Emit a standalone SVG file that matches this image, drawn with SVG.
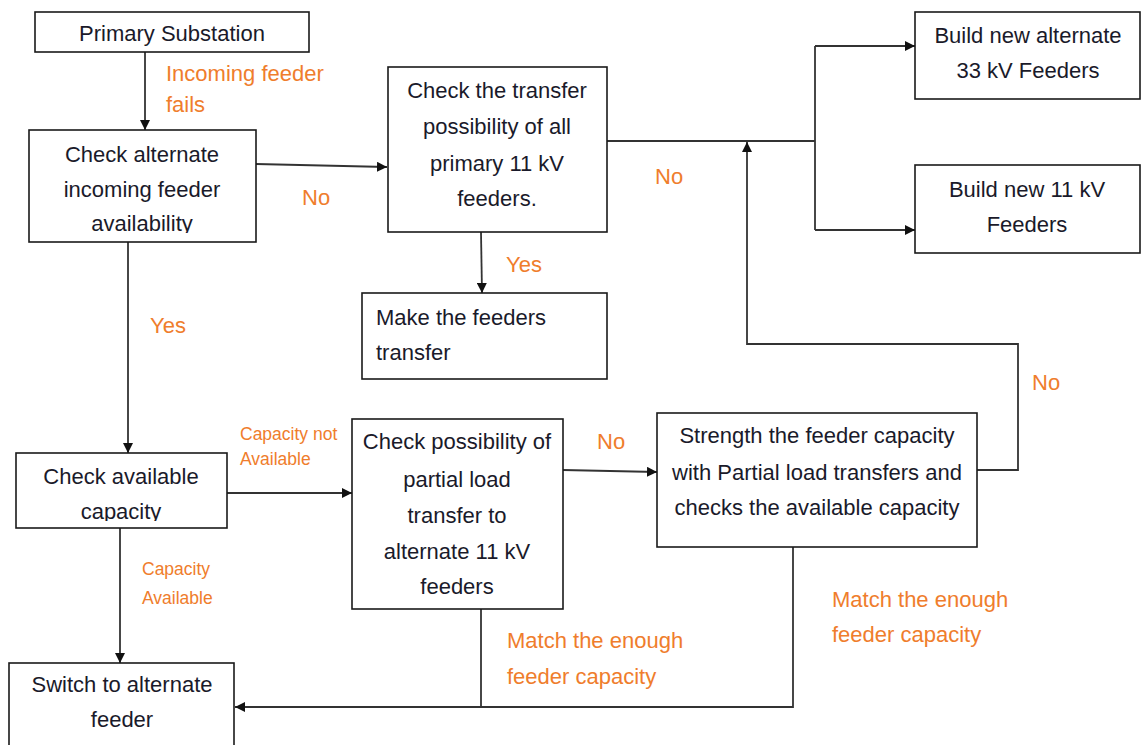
<svg xmlns="http://www.w3.org/2000/svg" width="1143" height="745" viewBox="0 0 1143 745">
<style>
.box{fill:#fff;stroke:#1a1a1a;stroke-width:1.6}
.t{font-family:"Liberation Sans",Arial,sans-serif;font-size:22px;fill:#1a1a2a}
.c{text-anchor:middle}
.lbl{font-family:"Liberation Sans",Arial,sans-serif;font-size:22px;fill:#ef7d2c}
.sl{font-family:"Liberation Sans",Arial,sans-serif;font-size:17.5px;fill:#ef7d2c}
.ln{fill:none;stroke:#333;stroke-width:1.8}
</style>
<defs>
<marker id="ah" viewBox="0 0 10 10" refX="10" refY="5" markerWidth="10" markerHeight="10" markerUnits="userSpaceOnUse" orient="auto">
<path d="M0,0 L10,5 L0,10 z" fill="#111"/>
</marker>
<clipPath id="clip2"><rect x="29" y="130" width="227" height="103"/></clipPath>
<clipPath id="clip9"><rect x="16" y="453" width="211" height="68"/></clipPath>
</defs>
<rect width="1143" height="745" fill="#fff"/>

<g id="connectors">
<path class="ln" d="M145,52 V130" marker-end="url(#ah)"/>
<path class="ln" d="M256,164 L387,167" marker-end="url(#ah)"/>
<path class="ln" d="M481,232 L482,293" marker-end="url(#ah)"/>
<path class="ln" d="M607,141 H815"/>
<path class="ln" d="M815,46 V230"/>
<path class="ln" d="M815,46 H915" marker-end="url(#ah)"/>
<path class="ln" d="M815,230 H915" marker-end="url(#ah)"/>
<path class="ln" d="M977,470 H1018 V344 H747 V142" marker-end="url(#ah)"/>
<path class="ln" d="M128,242 V453" marker-end="url(#ah)"/>
<path class="ln" d="M227,493 H352" marker-end="url(#ah)"/>
<path class="ln" d="M563,470 L657,472" marker-end="url(#ah)"/>
<path class="ln" d="M120,528 V663" marker-end="url(#ah)"/>
<path class="ln" d="M793,547 V707 H235" marker-end="url(#ah)"/>
<path class="ln" d="M481,609 V707"/>
</g>

<g id="labels">
<text class="lbl" x="166" y="81">Incoming feeder</text>
<text class="lbl" x="166" y="112">fails</text>
<text class="lbl" x="302" y="205">No</text>
<text class="lbl" x="506" y="272">Yes</text>
<text class="lbl" x="655" y="184">No</text>
<text class="lbl" x="1032" y="390">No</text>
<text class="lbl" x="150" y="333">Yes</text>
<text class="sl" x="240" y="440">Capacity not</text>
<text class="sl" x="240" y="465">Available</text>
<text class="lbl" x="597" y="449">No</text>
<text class="sl" x="142" y="575">Capacity</text>
<text class="sl" x="142" y="604">Available</text>
<text class="lbl" x="507" y="648">Match the enough</text>
<text class="lbl" x="507" y="684">feeder capacity</text>
<text class="lbl" x="832" y="607">Match the enough</text>
<text class="lbl" x="832" y="642">feeder capacity</text>
</g>

<g id="n1">
<rect class="box" x="35" y="12" width="274" height="40"/>
<text class="t c" x="172" y="41">Primary Substation</text>
</g>

<g id="n2">
<rect class="box" x="29" y="130" width="227" height="112"/>
<g clip-path="url(#clip2)">
<text class="t c" x="142" y="162">Check alternate</text>
<text class="t c" x="142" y="197">incoming feeder</text>
<text class="t c" x="142" y="231">availability</text>
</g>
</g>

<g id="n3">
<rect class="box" x="388" y="67" width="219" height="165"/>
<text class="t c" x="497" y="98">Check the transfer</text>
<text class="t c" x="497" y="134">possibility of all</text>
<text class="t c" x="497" y="171">primary 11 kV</text>
<text class="t c" x="497" y="206">feeders.</text>
</g>

<g id="n4">
<rect class="box" x="362" y="293" width="245" height="86"/>
<text class="t" x="376" y="325">Make the feeders</text>
<text class="t" x="376" y="360">transfer</text>
</g>

<g id="n5">
<rect class="box" x="915" y="12" width="225" height="87"/>
<text class="t c" x="1028" y="43">Build new alternate</text>
<text class="t c" x="1028" y="78">33 kV Feeders</text>
</g>

<g id="n6">
<rect class="box" x="915" y="165" width="225" height="88"/>
<text class="t c" x="1027" y="197">Build new 11 kV</text>
<text class="t c" x="1027" y="232">Feeders</text>
</g>

<g id="n7">
<rect class="box" x="657" y="413" width="320" height="134"/>
<text class="t c" x="817" y="443">Strength the feeder capacity</text>
<text class="t c" x="817" y="480">with Partial load transfers and</text>
<text class="t c" x="817" y="515">checks the available capacity</text>
</g>

<g id="n8">
<rect class="box" x="352" y="419" width="211" height="190"/>
<text class="t c" x="457" y="449">Check possibility of</text>
<text class="t c" x="457" y="487">partial load</text>
<text class="t c" x="457" y="523">transfer to</text>
<text class="t c" x="457" y="559">alternate 11 kV</text>
<text class="t c" x="457" y="594">feeders</text>
</g>

<g id="n9">
<rect class="box" x="16" y="453" width="211" height="75"/>
<g clip-path="url(#clip9)">
<text class="t c" x="121" y="484">Check available</text>
<text class="t c" x="121" y="519">capacity</text>
</g>
</g>

<g id="n10">
<rect class="box" x="9" y="663" width="225" height="100"/>
<text class="t c" x="122" y="692">Switch to alternate</text>
<text class="t c" x="122" y="727">feeder</text>
</g>
</svg>
